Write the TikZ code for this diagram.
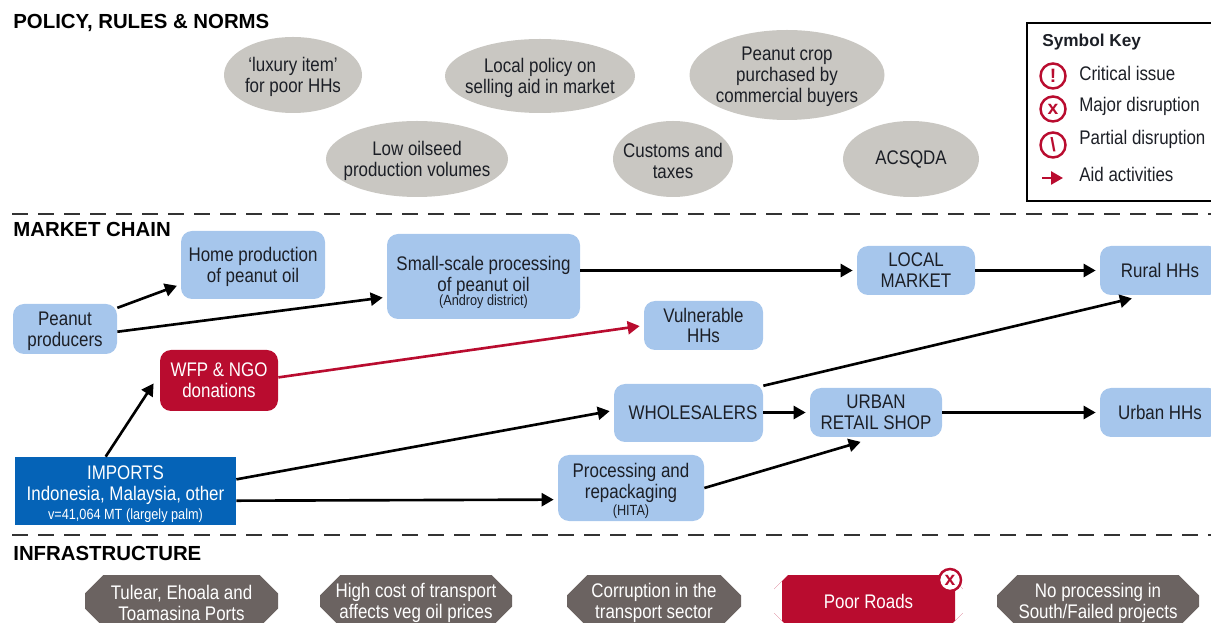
\documentclass[tikz,border=0pt]{standalone}
\usepackage{fontspec}
\usepackage{xcolor}
\setmainfont[FakeStretch=0.86]{Liberation Sans}
\newfontfamily\headfont{Liberation Sans}
\usetikzlibrary{shapes.geometric, shapes.misc, arrows, arrows.meta}
\definecolor{chainblue}{HTML}{A6C6EC}
\definecolor{importblue}{HTML}{0563B7}
\definecolor{aidred}{HTML}{B90C2F}
\definecolor{normgrey}{HTML}{C9C7C2}
\definecolor{infragrey}{HTML}{6B6361}
\definecolor{inktext}{HTML}{1C1F26}
\newcommand{\labeltext}{\fontsize{11.2}{11.9}\selectfont}
\newcommand{\tinytext}{\fontsize{8.4}{9}\selectfont}
\newcommand{\nudge}[1]{\rule{0pt}{#1pt}}
\tikzstyle{arrow} = [line width=1.5pt,-{Triangle[length=0.24cm,width=0.26cm]},shorten >=0.08cm,color=black]
\tikzstyle{aidarrow} = [arrow,color=aidred]
\tikzstyle{sectionline} = [line width=1.4pt,color=black!80,dash pattern=on 0.32cm off 0.2cm]
\tikzstyle{heading} = [anchor=west,inner sep=0,font=\headfont\bfseries\fontsize{11.6}{12}\selectfont,text=black]
\tikzstyle{norm} = [ellipse,fill=normgrey,inner sep=-0.4cm,align=center,font=\labeltext,text=inktext]
\tikzstyle{chain} = [rectangle,rounded corners=0.22cm,fill=chainblue,inner sep=0,align=center,font=\labeltext,text=inktext]
\tikzstyle{infra} = [chamfered rectangle,chamfered rectangle xsep=0.28cm,chamfered rectangle ysep=0.28cm,fill=infragrey,inner sep=-0.3cm,minimum height=1.04cm,align=center,font=\labeltext,text=white]
\tikzstyle{keyicon} = [circle,draw=aidred,line width=1.4pt,fill=white,minimum size=0.5cm,inner sep=0,text=aidred,font=\headfont\bfseries\fontsize{11}{11}\selectfont]
\tikzstyle{keytext} = [anchor=west,inner sep=0,font=\labeltext,text=inktext]
\begin{document}
\begin{tikzpicture}
    \useasboundingbox (0, 0) rectangle (24.22, 12.44);
    \clip (0, 0) rectangle (24.22, 12.44);

    % section headings and dividers
    \node [heading] (policyhead) at (0.26, 11.98) {POLICY, RULES \& NORMS};
    \node [heading] (chainhead) at (0.26, 7.86) {MARKET CHAIN};
    \node [heading] (infrahead) at (0.26, 1.38) {INFRASTRUCTURE};
    \coordinate (divtopa) at (0.24, 8.16);
    \coordinate (divtopb) at (24.22, 8.16);
    \coordinate (divlowa) at (0.24, 1.74);
    \coordinate (divlowb) at (24.22, 1.74);
    \draw [sectionline] (divtopa) -- (divtopb);
    \draw [sectionline] (divlowa) -- (divlowb);

    % policy, rules and norms
    \node [norm, minimum width=2.76cm, minimum height=1.52cm] (luxury) at (5.86, 10.94) {\nudge{10}`luxury item'\\for poor HHs};
    \node [norm, minimum width=3.80cm, minimum height=1.48cm] (aidpolicy) at (10.80, 10.92) {\nudge{10}Local policy on\\selling aid in market};
    \node [norm, minimum width=3.90cm, minimum height=1.80cm] (peanutcrop) at (15.74, 10.94) {\nudge{10}Peanut crop\\purchased by\\commercial buyers};
    \node [norm, minimum width=3.64cm, minimum height=1.52cm] (oilseed) at (8.34, 9.26) {\nudge{10}Low oilseed\\production volumes};
    \node [norm, minimum width=2.40cm, minimum height=1.52cm] (customs) at (13.46, 9.26) {\nudge{10}Customs and\\taxes};
    \node [norm, minimum width=2.72cm, minimum height=1.52cm] (acsqda) at (18.22, 9.26) {ACSQDA};

    % symbol key
    \node [draw, line width=0.9pt, minimum width=4.2cm, minimum height=3.56cm, anchor=north west] (keybox) at (20.52, 12.0) {};
    \node [keytext, font=\headfont\bfseries\fontsize{9.8}{12}\selectfont] (keyhead) at (20.84, 11.6) {Symbol Key};
    \node [keyicon] (keycritical) at (21.06, 10.92) {!};
    \node [keyicon] (keymajor) at (21.06, 10.26) {x};
    \node [keyicon] (keypartial) at (21.06, 9.54) {\textbackslash};
    \node [keytext] (keycriticaltext) at (21.58, 10.97) {Critical issue};
    \node [keytext] (keymajortext) at (21.58, 10.32) {Major disruption};
    \node [keytext] (keypartialtext) at (21.58, 9.66) {Partial disruption};
    \node [keytext] (keyaidtext) at (21.58, 8.96) {Aid activities};
    \coordinate (keyaida) at (20.84, 8.88);
    \coordinate (keyaidb) at (21.34, 8.88);
    \draw [aidarrow] (keyaida) -- (keyaidb);

    % market chain
    \node [chain, minimum width=2.88cm, minimum height=1.36cm] (home) at (5.06, 7.14) {\nudge{10}Home production\\of peanut oil};
    \node [chain, minimum width=3.86cm, minimum height=1.70cm] (smallscale) at (9.67, 6.91) {\nudge{15}Small-scale processing\\of peanut oil\\[-3.8pt]{\tinytext (Androy district)}};
    \node [chain, minimum width=2.36cm, minimum height=0.98cm] (localmarket) at (18.32, 7.03) {LOCAL\\MARKET};
    \node [chain, minimum width=2.40cm, minimum height=0.98cm] (rural) at (23.20, 7.03) {Rural HHs};
    \node [chain, minimum width=2.08cm, minimum height=1.00cm] (producers) at (1.30, 5.86) {\nudge{10}Peanut\\producers};
    \node [chain, minimum width=2.38cm, minimum height=0.98cm] (vulnerable) at (14.07, 5.93) {Vulnerable\\HHs};
    \node [chain, fill=aidred, text=white, minimum width=2.36cm, minimum height=1.22cm] (donations) at (4.38, 4.83) {WFP \& NGO\\donations};
    \node [chain, minimum width=2.98cm, minimum height=1.16cm] (wholesalers) at (13.77, 4.18) {\hspace{0.18cm}WHOLESALERS};
    \node [chain, minimum width=2.64cm, minimum height=0.98cm] (retail) at (17.52, 4.19) {URBAN\\RETAIL SHOP};
    \node [chain, minimum width=2.40cm, minimum height=0.98cm] (urban) at (23.20, 4.19) {Urban HHs};
    \node [chain, minimum width=2.92cm, minimum height=1.32cm] (processing) at (12.62, 2.68) {\nudge{11.5}Processing and\\repackaging\\[-2.5pt]{\tinytext (HITA)}};
    \node [rectangle, fill=importblue, text=white, inner sep=0, align=center, font=\labeltext, minimum width=4.42cm, minimum height=1.36cm] (imports) at (2.51, 2.62) {\nudge{11.5}IMPORTS\\Indonesia, Malaysia, other\\[-1.5pt]{\tinytext v=41,064 MT (largely palm)}};

    \draw [arrow] (producers.22) -- (home.195);
    \draw [arrow] (producers.357) -- (smallscale.192);
    \draw [arrow] (smallscale.east |- localmarket.west) -- (localmarket.west);
    \draw [arrow] (localmarket.east) -- (rural.west);
    \draw [aidarrow] (donations.3) -- (vulnerable.west);
    \draw [arrow, shorten >=0.22cm] (imports.120) -- (donations.174.7);
    \draw [arrow] (imports.6.7) -- (wholesalers.178.5);
    \draw [arrow] (imports.-5) -- (processing.189.5);
    \draw [arrow] (wholesalers.east |- retail.west) -- (retail.west);
    \draw [arrow, shorten >=0.26cm] (wholesalers.20.5) -- (rural.238.5);
    \draw [arrow] (retail.east) -- (urban.west);
    \draw [arrow, shorten >=0.32cm] (processing.east) -- (retail.south);

    % infrastructure
    \node [infra, minimum width=3.86cm] (ports) at (3.63, 0.42) {\nudge{10}Tulear, Ehoala and\\Toamasina Ports};
    \node [infra, minimum width=3.84cm] (transport) at (8.32, 0.42) {\nudge{10}High cost of transport\\affects veg oil prices};
    \node [infra, minimum width=3.48cm] (corruption) at (13.08, 0.42) {\nudge{10}Corruption in the\\transport sector};
    \node [infra, fill=aidred, minimum width=3.46cm] (roads) at (17.37, 0.42) {Poor Roads};
    \node [infra, minimum width=4.04cm] (noprocessing) at (21.96, 0.42) {\nudge{10}No processing in\\South/Failed projects};
    \node [keyicon, minimum size=0.44cm] (roadsmark) at (19.0, 0.84) {x};
\end{tikzpicture}
\end{document}
